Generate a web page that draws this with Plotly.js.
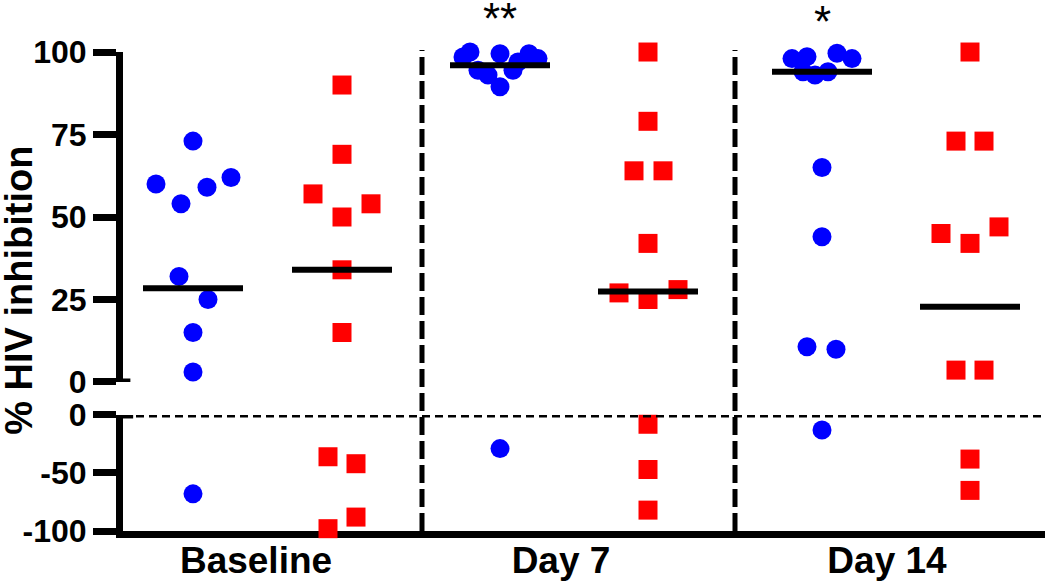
<!DOCTYPE html>
<html>
<head>
<meta charset="utf-8">
<script src="https://cdn.plot.ly/plotly-3.0.1.min.js"></script>
<style>html, body { margin: 0; padding: 0; background: #fff; }</style>
</head>
<body>
<div id="chart" style="width:1050px;height:584px"></div>
<script>
const groups = ['Baseline', 'Day 7', 'Day 14'];

// % HIV inhibition per group
const blueValues = [
    [73, 60, 59, 62, 54, 32, 25, 15, 3, -68],
    [100, 98.5, 99.5, 99.5, 98, 97, 94.5, 93, 89.5, 94.5, -29],
    [98, 98.6, 99.6, 98, 94, 93, 94, 65, 44, 10.7, 9.9, -13]
];
const redValues = [
    [90, 69, 57, 54, 50, 34, 15, -36, -42, -98, -88],
    [100, 79, 64, 64, 42, 27, 28, 25, -8, -47, -82],
    [100, 73, 73, 45, 42, 47, 3.6, 3.6, -38, -65]
];
const blueMedians = [28.4, 96, 94];
const redMedians = [34, 27.4, 22.8];
const significance = ['', '**', '*'];
const upperTicks = [0, 25, 50, 75, 100];
const lowerTicks = [-100, -50, 0];

// horizontal placement (1 unit = 100 px)
const blueX = [1.93, 5.00, 8.22];
const redX = [3.42, 6.48, 9.70];
const labelX = [2.56, 5.61, 8.87];
const dividerX = [4.22, 7.35];
// sideways spread of the points in each column, px
const blueSpread = [
    [0, -37, 14, 38, -12, -14, 15, 0, 0, 0],
    [-30, -37, 0, 29, 38, 18, -22, -12, 0, 13, 0],
    [-30, -15, 15, 30, -19, -7, 6, 0, 0, -15, 14, 0]
];
const redSpread = [
    [0, 0, -29, 29, 0, 0, 0, -14, 14, -14, 14],
    [0, 0, -14, 15, 0, -29, 30, 0, 0, 0, 0],
    [0, -14, 14, -29, 0, 29, -14, 14, 0, 0]
];

const font = 'Arial, "Liberation Sans", sans-serif';

// split a series into the upper (0..100) and lower (-100..0) panels
function pointTraces(values, spread, centers, marker) {
    const up = { x: [], y: [] }, down = { x: [], y: [] };
    values.forEach((vals, g) => {
        vals.forEach((v, i) => {
            const target = v >= 0 ? up : down;
            target.x.push(centers[g] + spread[g][i] / 100);
            target.y.push(v);
        });
    });
    const base = { type: 'scatter', mode: 'markers', marker: marker, cliponaxis: false, hoverinfo: 'y' };
    return [
        Object.assign({}, base, { x: up.x, y: up.y, xaxis: 'x', yaxis: 'y' }),
        Object.assign({}, base, { x: down.x, y: down.y, xaxis: 'x', yaxis: 'y2' })
    ];
}

function medianTrace(medians, centers) {
    const x = [], y = [];
    medians.forEach((m, g) => {
        x.push(centers[g] - 0.5, centers[g] + 0.5, null);
        y.push(m, m, null);
    });
    return { type: 'scatter', mode: 'lines', x: x, y: y, xaxis: 'x', yaxis: 'y',
        line: { color: '#000', width: 6 }, cliponaxis: false, hoverinfo: 'skip' };
}

const blueMarker = { symbol: 'circle', size: 19, color: '#0000ff', line: { width: 0 } };
const redMarker = { symbol: 'square', size: 19, color: '#ff0000', line: { width: 0 } };

const data = [
    ...pointTraces(blueValues, blueSpread, blueX, blueMarker),
    ...pointTraces(redValues, redSpread, redX, redMarker),
    medianTrace(blueMedians, blueX),
    medianTrace(redMedians, redX)
];

const yCommon = {
    showline: true, linewidth: 7, linecolor: '#000',
    ticks: 'outside', ticklen: 23, tickwidth: 7, tickcolor: '#000',
    showgrid: false, zeroline: false, anchor: 'x', fixedrange: true,
    tickfont: { family: font, size: 32, weight: 'bold', color: '#000' }
};

const shapes = dividerX.map(x => ({
    type: 'line', xref: 'x', yref: 'paper', x0: x, x1: x, y0: 0, y1: 1,
    line: { color: '#000', width: 5, dash: '18px,6px' }
}));
shapes.push({
    type: 'line', xref: 'paper', yref: 'y2', x0: 0, x1: 1, y0: 0, y1: 0,
    line: { color: '#000', width: 5, dash: '8px,5px' }
});
// axis break stubs
shapes.push({ type: 'line', xref: 'paper', yref: 'y', x0: -0.004, x1: 0.008, y0: 0, y1: 0,
    line: { color: '#000', width: 7 } });
shapes.push({ type: 'line', xref: 'paper', yref: 'y2', x0: -0.004, x1: 0.011, y0: 0, y1: 0,
    line: { color: '#000', width: 7 } });

const annotations = significance.map((s, g) => ({
    text: s, x: blueX[g], y: g === 1 ? 1.066 : 1.06, xref: 'x', yref: 'paper',
    xanchor: 'center', yanchor: 'middle', showarrow: false,
    font: { family: font, size: 44, color: '#000' }
})).filter(a => a.text);
annotations.push({
    text: '% HIV inhibition', textangle: -90, xref: 'paper', yref: 'paper',
    x: -0.113, y: 0.501, xanchor: 'center', yanchor: 'middle', showarrow: false,
    font: { family: font, size: 38, weight: 'bold', color: '#000' }
});

const layout = {
    width: 1050, height: 584,
    margin: { l: 123, r: 5, t: 50, b: 53 },
    paper_bgcolor: '#fff', plot_bgcolor: '#fff',
    showlegend: false,
    xaxis: {
        range: [1.23, 10.45], anchor: 'y2', showline: true, linewidth: 7, linecolor: '#000',
        ticks: '', tickvals: labelX, ticktext: groups, showgrid: false, zeroline: false,
        layer: 'below traces', fixedrange: true, ticklabelstandoff: -9,
        tickfont: { family: font, size: 37, weight: 'bold', color: '#000' }
    },
    yaxis: Object.assign({}, yCommon, { domain: [0.3098, 0.9958], range: [0, 100],
        tickvals: upperTicks, ticktext: upperTicks.map(String) }),
    yaxis2: Object.assign({}, yCommon, { domain: [0, 0.2412], range: [-100, 0],
        tickvals: lowerTicks, ticktext: lowerTicks.map(String) }),
    shapes: shapes,
    annotations: annotations
};

Plotly.newPlot('chart', data, layout, { displayModeBar: false, staticPlot: true });
</script>
</body>
</html>
